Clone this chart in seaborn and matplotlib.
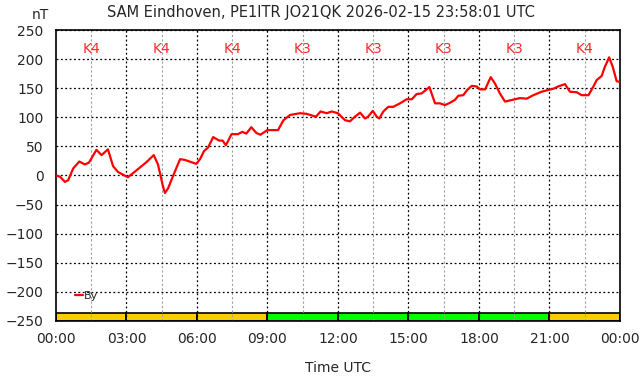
import numpy as np
import pandas as pd
import matplotlib
matplotlib.use('Agg')
import matplotlib.pyplot as plt
import seaborn as sns

# By component, hours since 00:00 UTC and nT
hours = [0.0, 0.17, 0.38, 0.52, 0.73, 0.99, 1.23, 1.40, 1.72, 1.94, 2.21, 2.43, 2.64, 3.06,
         3.49, 3.85, 4.16, 4.34, 4.56, 4.64, 4.77, 5.02, 5.28, 5.47, 5.97, 6.13, 6.30, 6.47, 6.69,
         6.94, 7.09, 7.23, 7.47, 7.74, 7.93, 8.10, 8.31, 8.53, 8.70, 8.99, 9.45, 9.68, 9.96,
         10.38, 10.66, 11.06, 11.26, 11.52, 11.73, 12.0, 12.30, 12.51, 12.72, 12.94, 13.15,
         13.28, 13.48, 13.65, 13.76, 13.93, 14.14, 14.35, 14.64, 14.92, 15.14, 15.35, 15.56,
         15.89, 16.13, 16.34, 16.55, 16.77, 16.98, 17.12, 17.33, 17.50, 17.69, 17.90, 18.04,
         18.26, 18.50, 18.68, 18.89, 19.11, 19.32, 19.74, 20.03, 20.31, 20.67, 20.95, 21.16,
         21.37, 21.66, 21.87, 22.16, 22.37, 22.66, 22.87, 23.01, 23.22, 23.36, 23.54, 23.69,
         23.86, 23.97]
by_nt = [0, -2, -11, -8, 12, 24, 19, 22, 44, 35, 45, 16, 6, -3,
         11, 23, 35, 19, -20, -30, -22, 3, 28, 27, 20, 28, 42, 48, 66,
         60, 60, 52, 71, 71, 75, 72, 83, 73, 70, 78, 78, 95, 104,
         107, 106, 101, 110, 107, 110, 107, 95, 93, 101, 108, 98,
         101, 111, 101, 98, 110, 118, 118, 124, 131, 131, 140, 141,
         152, 124, 124, 121, 125, 130, 137, 138, 147, 154, 153, 148,
         148, 169, 158, 141, 127, 129, 133, 132, 138, 144, 147, 149,
         153, 157, 144, 143, 138, 138, 153, 164, 171, 187, 203, 187,
         162, 161]

k_start = [0, 3, 6, 9, 12, 15, 18, 21]
k_index = ['K4', 'K4', 'K4', 'K3', 'K3', 'K3', 'K3', 'K4']
k_colors = {'K4': '#ffcc00', 'K3': '#00ff00'}

tick_hours = list(range(0, 25, 3))
tick_labels = ['00:00', '03:00', '06:00', '09:00', '12:00', '15:00', '18:00', '21:00', '00:00']

df = pd.DataFrame({'hour': hours, 'By': by_nt})

sns.set_style('white')
plt.rcParams['font.family'] = ['DejaVu Sans']

fig = plt.figure(figsize=(6.42, 3.76), dpi=100)
ax = fig.add_axes([0.0872, 0.1463, 0.8785, 0.7739])

# K-index bars along the bottom
ax.bar(k_start, [13.5] * len(k_start), width=3, bottom=-250, align='edge',
       color=[k_colors[k] for k in k_index], edgecolor='black', linewidth=1.2, zorder=1)

# grid
for h in np.arange(1.5, 24, 3):
    ax.axvline(h, color='#a0a0a0', linestyle=(0, (2, 2)), linewidth=0.8, zorder=2)
for h in range(3, 24, 3):
    ax.axvline(h, color='black', linestyle=(0, (1.5, 2)), linewidth=0.9, zorder=2)
for v in range(-250, 251, 50):
    ax.axhline(v, color='black', linestyle=(0, (1.5, 2)), linewidth=0.9, zorder=2)

sns.lineplot(data=df, x='hour', y='By', color='red', linewidth=1.6, ax=ax,
             label='By', zorder=3)

for h, k in zip(k_start, k_index):
    ax.text(h + 1.5, 217, k, color='#ff2a2a', ha='center', va='center', fontsize=10)

ax.set_xlim(0, 24)
ax.set_ylim(-250, 250)
ax.set_xticks(tick_hours)
ax.set_xticklabels(tick_labels, fontsize=10)
ax.set_yticks(range(-250, 251, 50))
ax.tick_params(axis='y', labelsize=10, pad=9)
ax.tick_params(axis='x', pad=8)
ax.tick_params(direction='in', length=4, width=1, color='black')
ax.set_xlabel('Time UTC', fontsize=10, labelpad=11)
ax.set_ylabel('')
for s in ax.spines.values():
    s.set_color('black')
    s.set_linewidth(1.2)

ax.legend(loc='lower left', bbox_to_anchor=(0.022, 0.045), frameon=False, fontsize=8,
          handlelength=0.7, handletextpad=0.1, borderaxespad=0.2)

fig.text(0.5, 0.968, 'SAM Eindhoven, PE1ITR JO21QK 2026-02-15 23:58:01 UTC',
         ha='center', va='center', fontsize=10.5)
fig.text(0.063, 0.96, 'nT', ha='center', va='center', fontsize=10)

fig.savefig('out.png', dpi=100)
